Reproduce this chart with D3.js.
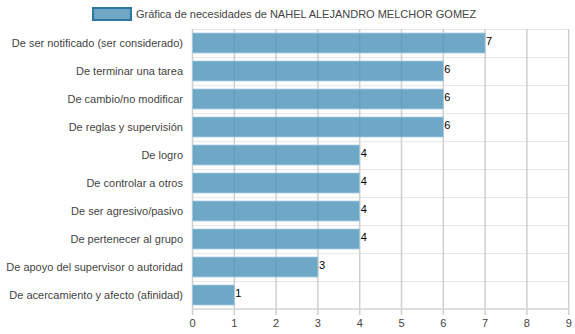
<!DOCTYPE html>
<html>
<head>
<meta charset="utf-8">
<script src="https://cdnjs.cloudflare.com/ajax/libs/d3/7.8.5/d3.min.js"></script>
<style>
  html, body { margin: 0; padding: 0; background: #fff; }
  svg { display: block; font-family: "Liberation Sans", Arial, sans-serif; }
</style>
</head>
<body>
<svg id="chart" width="575" height="334"></svg>
<script>
// Needs and their scores
const categories = [
  "De ser notificado (ser considerado)",
  "De terminar una tarea",
  "De cambio/no modificar",
  "De reglas y supervisión",
  "De logro",
  "De controlar a otros",
  "De ser agresivo/pasivo",
  "De pertenecer al grupo",
  "De apoyo del supervisor o autoridad",
  "De acercamiento y afecto (afinidad)"
];
const values = [7, 6, 6, 6, 4, 4, 4, 4, 3, 1];
const xTicks = [0, 1, 2, 3, 4, 5, 6, 7, 8, 9];
const seriesName = "Gráfica de necesidades de NAHEL ALEJANDRO MELCHOR GOMEZ";

const svg = d3.select("#chart");
const plotLeft = 192.5, plotRight = 568.7, plotTop = 29, plotBottom = 309;

const x = d3.scaleLinear().domain([0, 9]).range([plotLeft, plotRight]);
const y = d3.scaleBand().domain(categories).range([plotTop, plotBottom]).paddingInner(0.286).paddingOuter(0.143);

// horizontal separators between rows
const step = y.step();
svg.append("g").selectAll("line")
  .data(d3.range(categories.length + 1))
  .join("line")
  .attr("x1", plotLeft).attr("x2", plotRight)
  .attr("y1", i => plotTop + i * step + 0.5).attr("y2", i => plotTop + i * step + 0.5)
  .attr("stroke", "#e6e6e6").attr("stroke-width", 1);

// vertical grid lines, extending below the axis as ticks
svg.append("g").selectAll("line")
  .data(xTicks)
  .join("line")
  .attr("x1", d => x(d)).attr("x2", d => x(d))
  .attr("y1", plotTop).attr("y2", plotBottom + 6)
  .attr("stroke", "#cfcfcf").attr("stroke-width", 1.5);

// bottom axis line
svg.append("line")
  .attr("x1", plotLeft).attr("x2", plotRight)
  .attr("y1", plotBottom).attr("y2", plotBottom)
  .attr("stroke", "#d8d8d8").attr("stroke-width", 1.5);

// bars
svg.append("g").selectAll("rect")
  .data(values)
  .join("rect")
  .attr("x", x(0))
  .attr("y", (d, i) => y(categories[i]))
  .attr("width", d => x(d) - x(0))
  .attr("height", y.bandwidth())
  .attr("fill", "#4b92b8").attr("fill-opacity", 0.8)
  .attr("stroke", "#a8cbe0").attr("stroke-width", 0.8);

// value labels
svg.append("g").selectAll("text")
  .data(values)
  .join("text")
  .attr("x", d => x(d) + 1)
  .attr("y", (d, i) => y(categories[i]) + y.bandwidth() / 2 - 2)
  .attr("dy", "0.35em")
  .attr("font-size", 11)
  .attr("fill", "#000")
  .text(d => d);

// category labels
svg.append("g").selectAll("text")
  .data(categories)
  .join("text")
  .attr("x", 183)
  .attr("y", d => y(d) + y.bandwidth() / 2)
  .attr("dy", "0.35em")
  .attr("text-anchor", "end")
  .attr("font-size", 11)
  .attr("fill", "#444")
  .text(d => d);

// x tick labels
svg.append("g").selectAll("text")
  .data(xTicks)
  .join("text")
  .attr("x", d => x(d))
  .attr("y", 323)
  .attr("dy", "0.35em")
  .attr("text-anchor", "middle")
  .attr("font-size", 11)
  .attr("fill", "#444")
  .text(d => d);

// legend
svg.append("rect")
  .attr("x", 93).attr("y", 8).attr("width", 38).attr("height", 12)
  .attr("fill", "#6fa8c6").attr("stroke", "#2f78a3").attr("stroke-width", 2);
svg.append("text")
  .attr("x", 136).attr("y", 14)
  .attr("dy", "0.35em")
  .attr("font-size", 11)
  .attr("fill", "#444")
  .text(seriesName);
</script>
</body>
</html>
